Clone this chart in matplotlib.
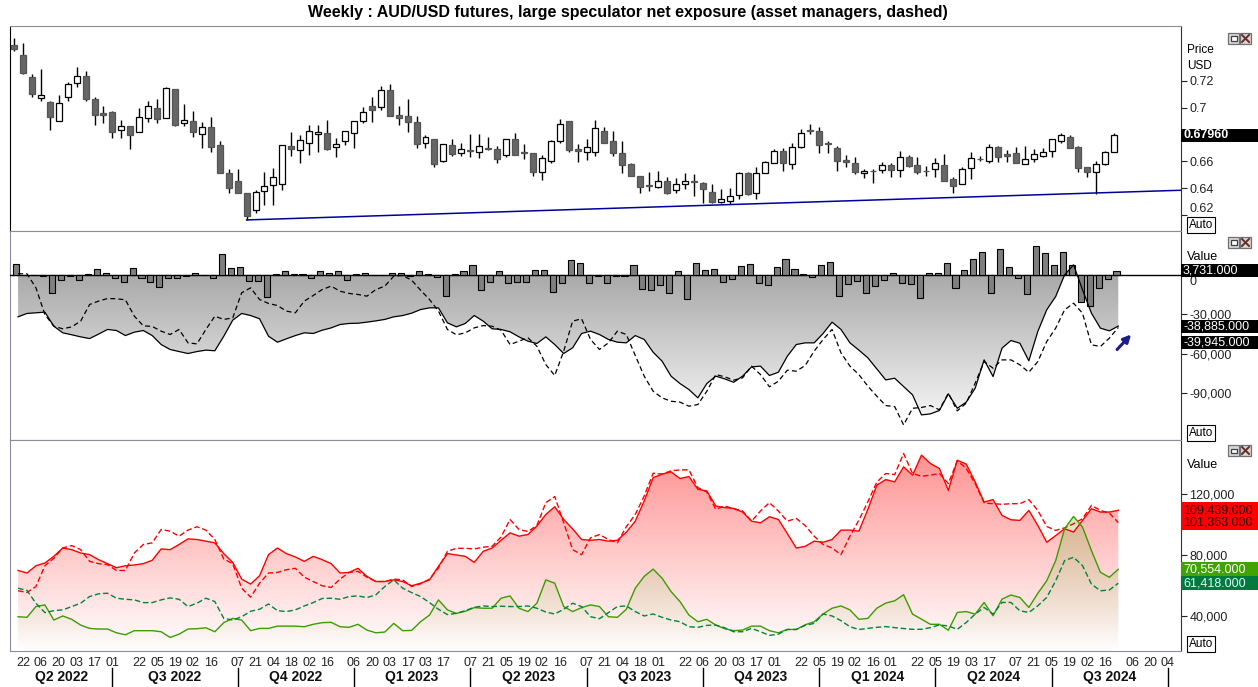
import matplotlib
matplotlib.use('Agg')
import matplotlib.pyplot as plt
import matplotlib.dates as mdates
from matplotlib.patches import Rectangle
from matplotlib.lines import Line2D
from matplotlib.ticker import FuncFormatter
import numpy as np
import pandas as pd

plt.rcParams['font.family'] = ['Liberation Sans', 'DejaVu Sans']

W, H = 1258, 687

#------------------------------------data (weekly, from the picture)------------------------------------
first_week = '2022-04-15'

opens = [0.7463, 0.7389, 0.7226, 0.7068, 0.7041, 0.6898, 0.7075, 0.7179, 0.7233, 0.7063,
         0.6957, 0.6967, 0.6831, 0.6863, 0.6816, 0.6920, 0.6996, 0.6920, 0.7135, 0.6883,
         0.6900, 0.6801, 0.6856, 0.6720, 0.6512, 0.6456, 0.6369, 0.6238, 0.6379, 0.6423,
         0.6431, 0.6715, 0.6683, 0.6735, 0.6801, 0.6811, 0.6705, 0.6749, 0.6809, 0.6898,
         0.7011, 0.7001, 0.7129, 0.6944, 0.6937, 0.6892, 0.6735, 0.6767, 0.6601, 0.6722,
         0.6665, 0.6684, 0.6673, 0.6698, 0.6695, 0.6646, 0.6764, 0.6670, 0.6660, 0.6525,
         0.6606, 0.6749, 0.6900, 0.6690, 0.6673, 0.6673, 0.6826, 0.6752, 0.6660, 0.6584,
         0.6493, 0.6428, 0.6409, 0.6456, 0.6386, 0.6433, 0.6453, 0.6443, 0.6374, 0.6298,
         0.6310, 0.6352, 0.6517, 0.6364, 0.6517, 0.6591, 0.6680, 0.6579, 0.6705, 0.6833,
         0.6826, 0.6740, 0.6698, 0.6611, 0.6586, 0.6512, 0.6532, 0.6537, 0.6574, 0.6537,
         0.6631, 0.6574, 0.6532, 0.6542, 0.6574, 0.6470, 0.6431, 0.6549, 0.6621, 0.6604,
         0.6710, 0.6653, 0.6660, 0.6584, 0.6616, 0.6641, 0.6680, 0.6752, 0.6784, 0.6710,
         0.6557, 0.6520, 0.6579, 0.6673]
highs = [0.7512, 0.7480, 0.7248, 0.7285, 0.7051, 0.7090, 0.7191, 0.7300, 0.7270, 0.7075,
         0.7011, 0.6974, 0.6907, 0.6863, 0.6994, 0.7051, 0.7063, 0.7149, 0.7140, 0.7026,
         0.6974, 0.6892, 0.6930, 0.6752, 0.6542, 0.6542, 0.6369, 0.6389, 0.6522, 0.6549,
         0.6725, 0.6818, 0.6796, 0.6870, 0.6870, 0.6907, 0.6774, 0.6826, 0.6900, 0.7001,
         0.7080, 0.7159, 0.7174, 0.7011, 0.7060, 0.6937, 0.6796, 0.6770, 0.6730, 0.6764,
         0.6739, 0.6801, 0.6801, 0.6784, 0.6715, 0.6767, 0.6809, 0.6727, 0.6663, 0.6646,
         0.6759, 0.6915, 0.6903, 0.6727, 0.6764, 0.6907, 0.6855, 0.6826, 0.6752, 0.6587,
         0.6495, 0.6525, 0.6527, 0.6488, 0.6475, 0.6512, 0.6507, 0.6445, 0.6431, 0.6394,
         0.6401, 0.6520, 0.6520, 0.6557, 0.6601, 0.6692, 0.6698, 0.6734, 0.6838, 0.6878,
         0.6858, 0.6752, 0.6715, 0.6648, 0.6631, 0.6544, 0.6544, 0.6599, 0.6591, 0.6678,
         0.6648, 0.6631, 0.6569, 0.6623, 0.6653, 0.6488, 0.6562, 0.6673, 0.6643, 0.6730,
         0.6717, 0.6685, 0.6710, 0.6715, 0.6692, 0.6698, 0.6764, 0.6813, 0.6796, 0.6717,
         0.6560, 0.6606, 0.6675, 0.6809]
lows = [0.7421, 0.7250, 0.7075, 0.7051, 0.6836, 0.6898, 0.7051, 0.7154, 0.7051, 0.6873,
        0.6888, 0.6771, 0.6771, 0.6695, 0.6816, 0.6895, 0.6888, 0.6920, 0.6865, 0.6863,
        0.6779, 0.6703, 0.6673, 0.6517, 0.6369, 0.6369, 0.6167, 0.6216, 0.6280, 0.6280,
        0.6389, 0.6643, 0.6591, 0.6650, 0.6673, 0.6685, 0.6636, 0.6725, 0.6703, 0.6883,
        0.6895, 0.6981, 0.6937, 0.6873, 0.6821, 0.6703, 0.6703, 0.6562, 0.6598, 0.6641,
        0.6643, 0.6636, 0.6629, 0.6685, 0.6591, 0.6636, 0.6646, 0.6616, 0.6495, 0.6463,
        0.6586, 0.6739, 0.6673, 0.6599, 0.6611, 0.6641, 0.6738, 0.6641, 0.6517, 0.6493,
        0.6369, 0.6384, 0.6407, 0.6359, 0.6364, 0.6394, 0.6344, 0.6290, 0.6290, 0.6296,
        0.6285, 0.6320, 0.6355, 0.6322, 0.6515, 0.6586, 0.6532, 0.6542, 0.6698, 0.6804,
        0.6660, 0.6660, 0.6532, 0.6562, 0.6507, 0.6475, 0.6443, 0.6512, 0.6488, 0.6483,
        0.6562, 0.6507, 0.6495, 0.6488, 0.6458, 0.6369, 0.6431, 0.6470, 0.6604, 0.6591,
        0.6599, 0.6599, 0.6586, 0.6584, 0.6599, 0.6636, 0.6636, 0.6740, 0.6698, 0.6525,
        0.6488, 0.6359, 0.6577, 0.6671]
closes = [0.7433, 0.7253, 0.7098, 0.7090, 0.6932, 0.7031, 0.7172, 0.7231, 0.7065, 0.6947,
          0.6947, 0.6821, 0.6860, 0.6799, 0.6927, 0.7009, 0.6917, 0.7142, 0.6870, 0.6905,
          0.6821, 0.6853, 0.6710, 0.6517, 0.6406, 0.6369, 0.6199, 0.6372, 0.6418, 0.6483,
          0.6722, 0.6690, 0.6757, 0.6823, 0.6816, 0.6695, 0.6730, 0.6823, 0.6898, 0.6964,
          0.6984, 0.7129, 0.6937, 0.6925, 0.6895, 0.6730, 0.6781, 0.6584, 0.6727, 0.6655,
          0.6690, 0.6680, 0.6712, 0.6692, 0.6621, 0.6764, 0.6646, 0.6660, 0.6525, 0.6623,
          0.6749, 0.6875, 0.6688, 0.6680, 0.6705, 0.6846, 0.6740, 0.6660, 0.6576, 0.6495,
          0.6414, 0.6418, 0.6453, 0.6369, 0.6433, 0.6456, 0.6448, 0.6399, 0.6298, 0.6322,
          0.6344, 0.6517, 0.6357, 0.6517, 0.6599, 0.6680, 0.6586, 0.6710, 0.6814, 0.6823,
          0.6722, 0.6730, 0.6606, 0.6594, 0.6520, 0.6530, 0.6527, 0.6572, 0.6537, 0.6631,
          0.6567, 0.6520, 0.6527, 0.6586, 0.6458, 0.6421, 0.6544, 0.6623, 0.6616, 0.6710,
          0.6636, 0.6643, 0.6591, 0.6616, 0.6653, 0.6673, 0.6764, 0.6796, 0.6698, 0.6554,
          0.6520, 0.6579, 0.6673, 0.6796]

# weekly change of large speculator net position (thousands of contracts)
chg_k = [8.5, 0.3, 0.5, -0.5, -13.3, -3.3, -0.5, -3.3, 0.8, 4.6,
         2.0, -2.3, -4.9, 5.9, -1.8, -4.9, -8.7, -1.8, -1.8, -0.5,
         2.0, 0.5, -1.8, 16.7, 5.9, 6.7, -4.1, -4.1, -16.4, 0.8,
         3.6, 1.5, 1.3, -2.3, 3.6, 2.0, 3.6, -3.3, 0.8, 2.0,
         0.2, 0.2, 2.0, 2.0, -0.5, 3.6, 0.8, -1.0, -15.9, 1.5,
         3.1, 7.7, -11.3, -4.9, 3.1, -5.6, -4.9, -4.9, 4.4, 4.4,
         -12.6, -5.6, 12.1, 9.7, -5.6, -0.5, -5.6, -0.5, -0.5, 8.2,
         -10.3, -11.0, -7.2, -13.8, 3.6, -17.9, 9.7, 4.4, 5.1, -4.9,
         -2.6, 7.4, 9.0, -5.6, -7.2, 6.7, 12.8, 5.1, 1.5, -0.8,
         8.2, 10.5, -15.6, -6.2, -4.6, -13.8, -7.9, -3.3, 1.8, -5.9,
         -6.7, -17.4, 1.8, 1.8, 9.5, -9.7, 4.4, 12.8, 17.9, -13.6,
         20.5, 6.2, -2.1, -14.1, 22.8, 17.2, 7.7, 17.9, 8.2, -20.5,
         -23.1, -9.7, -2.6, 3.731]

# net exposure, large speculators (solid) and asset managers (dashed)
net_spec_k = [-31.8, -29.2, -28.7, -28.2, -39.0, -44.1, -45.6, -47.2, -48.5, -45.1,
              -41.5, -42.3, -46.2, -43.6, -42.3, -46.2, -53.1, -56.9, -58.5, -60.0,
              -58.5, -57.4, -57.9, -46.7, -34.4, -29.2, -30.8, -33.3, -46.7, -51.3,
              -48.7, -46.2, -44.1, -44.6, -42.1, -40.3, -37.7, -36.9, -36.7, -35.9,
              -34.9, -33.8, -31.8, -30.8, -29.0, -26.2, -24.9, -24.9, -36.4, -39.5,
              -36.9, -30.8, -35.1, -41.0, -41.5, -43.3, -47.2, -50.5, -52.3, -47.2,
              -53.1, -60.0, -55.6, -44.6, -42.8, -45.4, -49.2, -51.3, -51.8, -46.2,
              -49.2, -59.0, -65.9, -77.4, -83.1, -87.7, -94.1, -83.1, -77.4, -79.5,
              -82.1, -77.4, -70.3, -69.7, -76.9, -74.4, -62.1, -53.1, -51.8, -51.8,
              -44.6, -35.9, -41.5, -51.8, -57.4, -63.3, -71.8, -80.3, -79.0, -85.4,
              -91.8, -107.2, -106.4, -103.8, -91.0, -102.1, -97.4, -86.7, -64.9, -77.7,
              -55.9, -50.0, -52.1, -65.6, -43.1, -26.4, -16.2, 0.5, 8.2, -11.0,
              -29.0, -40.5, -42.6, -38.885]
net_am_k = [1.3, 1.3, -9.5, -30.0, -39.0, -41.0, -39.5, -35.1, -22.3, -19.7,
            -17.7, -17.9, -18.7, -31.3, -38.7, -39.2, -42.8, -45.4, -41.5, -51.8,
            -52.6, -41.5, -31.3, -33.8, -32.6, -13.3, -9.5, -18.5, -21.5, -23.1,
            -27.4, -28.7, -19.7, -15.4, -10.8, -8.2, -12.1, -13.8, -14.6, -15.9,
            -10.8, -8.2, -0.5, 0.0, -3.6, -11.3, -18.5, -27.4, -41.5, -45.6,
            -44.1, -40.3, -38.5, -39.0, -42.1, -53.1, -50.5, -47.9, -54.4, -68.5,
            -76.9, -58.2, -35.1, -33.3, -49.2, -56.9, -51.8, -42.8, -45.4, -61.5,
            -77.4, -89.0, -94.1, -96.7, -97.4, -100.5, -99.2, -89.0, -76.2, -77.9,
            -80.5, -78.7, -69.7, -76.2, -85.6, -81.3, -72.8, -73.6, -69.2, -58.2,
            -49.2, -41.5, -59.5, -69.7, -76.2, -85.1, -92.8, -100.0, -100.8, -114.9,
            -102.1, -101.5, -100.0, -103.3, -90.5, -104.1, -98.2, -82.8, -66.2, -71.3,
            -64.9, -64.9, -68.7, -74.4, -66.2, -50.8, -40.5, -26.4, -21.3, -29.0,
            -53.3, -54.6, -48.2, -39.945]

# shorts (red) and longs (green); large speculators solid, asset managers dashed
spec_short_k = [69.8, 68.1, 72.9, 74.7, 79.1, 84.6, 83.5, 81.3, 80.2, 76.9,
                74.3, 71.6, 72.9, 73.4, 74.3, 76.5, 84.0, 83.5, 86.9, 90.6,
                90.2, 89.1, 88.0, 80.9, 75.1, 64.1, 60.8, 66.3, 80.2, 84.6,
                80.9, 78.7, 75.8, 79.1, 76.9, 74.3, 68.1, 68.5, 71.2, 65.9,
                62.5, 62.5, 63.6, 62.5, 59.7, 61.4, 63.6, 72.5, 80.9, 80.0,
                79.1, 75.1, 82.4, 84.6, 89.7, 94.6, 92.4, 93.5, 99.0, 106.7,
                111.8, 103.4, 97.2, 90.2, 89.7, 90.2, 89.1, 89.7, 95.0, 102.3,
                115.6, 131.0, 133.3, 134.8, 130.4, 131.7, 123.3, 122.2, 112.3, 111.2,
                110.7, 108.3, 102.3, 101.2, 105.2, 103.4, 94.1, 84.6, 85.7, 89.1,
                88.4, 90.2, 96.4, 96.4, 95.7, 110.0, 126.0, 129.7, 128.2, 138.1,
                132.6, 145.8, 140.3, 137.0, 122.6, 142.5, 139.9, 128.2, 114.9, 116.5,
                106.1, 103.2, 102.8, 109.4, 99.5, 88.4, 92.8, 97.3, 95.1, 102.8,
                110.5, 108.3, 108.3, 109.439]
am_short_k = [56.4, 55.3, 59.2, 72.9, 77.8, 84.6, 86.2, 83.5, 75.8, 74.3,
              73.6, 69.8, 69.8, 81.3, 86.9, 88.0, 96.8, 95.7, 92.4, 96.4,
              98.6, 96.4, 90.2, 77.3, 74.3, 58.1, 52.2, 61.4, 68.1, 68.5,
              70.3, 71.2, 65.4, 62.5, 59.7, 58.6, 64.1, 68.5, 69.2, 65.4,
              62.5, 62.5, 64.1, 63.6, 59.2, 61.0, 64.1, 71.4, 82.4, 84.4,
              84.4, 84.0, 85.1, 85.7, 91.9, 103.4, 96.8, 95.5, 99.4, 114.5,
              118.5, 101.2, 83.5, 80.2, 91.3, 93.5, 90.2, 88.0, 98.6, 106.7,
              118.9, 133.9, 133.3, 135.5, 136.1, 136.1, 124.4, 121.5, 110.1, 112.3,
              110.5, 109.0, 102.3, 109.0, 114.5, 109.0, 102.3, 104.1, 99.4, 92.4,
              86.9, 84.6, 80.2, 92.4, 103.0, 115.0, 128.0, 133.7, 133.0, 146.9,
              133.7, 131.9, 132.6, 133.7, 127.1, 142.1, 137.0, 127.1, 114.3, 113.8,
              113.4, 113.8, 113.8, 116.5, 109.4, 98.8, 96.2, 97.9, 100.6, 103.9,
              112.7, 109.4, 107.6, 101.363]
spec_long_k = [39.3, 38.9, 46.0, 47.1, 37.1, 39.8, 37.6, 33.8, 31.6, 31.2,
               31.2, 28.7, 27.4, 30.1, 30.1, 30.1, 29.4, 25.6, 27.8, 31.2,
               31.4, 32.0, 29.4, 35.4, 38.2, 37.1, 30.1, 31.6, 31.6, 33.1,
               33.1, 33.1, 32.7, 34.3, 35.4, 35.6, 32.7, 32.3, 34.3, 30.5,
               28.7, 29.2, 34.9, 30.1, 30.3, 36.0, 40.4, 50.4, 43.8, 41.5,
               42.9, 45.3, 44.9, 44.9, 51.5, 53.0, 44.9, 42.7, 48.2, 63.6,
               61.4, 46.0, 42.7, 45.3, 47.1, 46.0, 39.3, 38.9, 44.2, 58.1,
               65.9, 70.7, 64.7, 55.9, 49.3, 40.4, 36.0, 37.6, 33.8, 31.4,
               30.1, 30.5, 33.1, 33.1, 30.1, 28.7, 30.9, 30.9, 34.0, 36.0,
               41.1, 44.9, 46.4, 43.8, 37.6, 38.2, 44.9, 48.3, 49.8, 53.8,
               41.0, 37.7, 34.3, 34.3, 30.4, 42.1, 42.7, 41.0, 48.7, 39.9,
               50.9, 53.6, 52.0, 45.4, 54.7, 63.0, 76.3, 97.3, 105.4, 98.4,
               82.9, 68.6, 65.3, 70.554]
am_long_k = [58.1, 56.6, 48.2, 42.0, 43.3, 43.8, 46.0, 48.2, 52.6, 54.4,
             54.8, 51.5, 50.8, 50.4, 48.6, 48.6, 50.4, 51.7, 50.8, 46.0,
             48.2, 51.5, 49.3, 38.2, 37.1, 39.3, 42.9, 44.2, 47.7, 43.3,
             42.7, 43.8, 46.4, 48.6, 51.3, 51.5, 50.8, 52.6, 53.0, 51.9,
             53.7, 59.2, 63.6, 58.1, 55.2, 52.6, 48.6, 44.2, 40.7, 41.5,
             43.3, 45.5, 46.4, 46.0, 46.2, 46.0, 46.0, 46.4, 44.9, 42.4,
             41.1, 44.2, 48.2, 46.0, 39.3, 38.0, 42.0, 46.0, 46.4, 42.7,
             39.8, 41.1, 38.9, 37.1, 36.0, 32.7, 32.3, 33.6, 33.8, 32.0,
             29.4, 29.4, 31.6, 29.4, 27.0, 27.8, 30.9, 30.9, 33.6, 34.9,
             41.1, 39.8, 36.7, 32.7, 30.9, 31.6, 32.3, 32.8, 32.1, 31.5,
             31.0, 31.0, 32.1, 33.9, 33.2, 31.0, 35.5, 41.0, 45.4, 41.0,
             48.7, 48.7, 43.2, 42.1, 46.5, 52.0, 63.0, 76.3, 78.5, 73.0,
             60.8, 56.4, 56.9, 61.418]

# support line under the lows
trend_start_week = 26
trend_start_val = 0.6167
trend_end_val = 0.6387

tick_days = ['2022-04-22', '2022-05-06', '2022-05-20', '2022-06-03', '2022-06-17', '2022-07-01',
             '2022-07-22', '2022-08-05', '2022-08-19', '2022-09-02', '2022-09-16',
             '2022-10-07', '2022-10-21', '2022-11-04', '2022-11-18', '2022-12-02', '2022-12-16',
             '2023-01-06', '2023-01-20', '2023-02-03', '2023-02-17', '2023-03-03', '2023-03-17',
             '2023-04-07', '2023-04-21', '2023-05-05', '2023-05-19', '2023-06-02', '2023-06-16',
             '2023-07-07', '2023-07-21', '2023-08-04', '2023-08-18', '2023-09-01', '2023-09-22',
             '2023-10-06', '2023-10-20', '2023-11-03', '2023-11-17', '2023-12-01', '2023-12-22',
             '2024-01-05', '2024-01-19', '2024-02-02', '2024-02-16', '2024-03-01', '2024-03-22',
             '2024-04-05', '2024-04-19', '2024-05-03', '2024-05-17', '2024-06-07', '2024-06-21',
             '2024-07-05', '2024-07-19', '2024-08-02', '2024-08-16', '2024-09-06', '2024-09-20',
             '2024-10-04']
quarter_starts = ['2022-07-01', '2022-10-07', '2023-01-06', '2023-04-07', '2023-07-07',
                  '2023-10-06', '2024-01-05', '2024-04-05', '2024-07-05', '2024-10-04']
quarter_names = ['Q2 2022', 'Q3 2022', 'Q4 2022', 'Q1 2023', 'Q2 2023', 'Q3 2023',
                 'Q4 2023', 'Q1 2024', 'Q2 2024', 'Q3 2024']

#------------------------------------helpers------------------------------------
weeks = pd.date_range(first_week, periods=len(closes), freq='W-FRI')
xs = mdates.date2num(weeks)
x_line = xs + 0.45*7      # report values sit a little right of the candles
x_bar = xs + 0.25*7
x_lo = xs[0] - 0.45*7
x_hi = xs[0] + 130.46*7

def grad_fill(ax, x, y, base, rgb, a_bot, a_top, y_bot, y_top, z):
    coll = ax.fill_between(x, y, base, facecolor='none', edgecolor='none')
    g = np.zeros((256, 1, 4))
    g[:, 0, :3] = rgb
    g[:, 0, 3] = np.linspace(a_bot, a_top, 256)
    im = ax.imshow(g, extent=[x[0], x[-1], y_bot, y_top], origin='lower',
                   aspect='auto', zorder=z, interpolation='bilinear')
    im.set_clip_path(coll.get_paths()[0], transform=ax.transData)

def value_box(ax, v, txt, bg, fg, dy=0, h=13, bold=False):
    # dy > 0 moves the box down
    ypix = ax.transData.transform((x_lo, v))[1] - dy
    fig.patches.append(Rectangle((1181/W, (ypix - h/2)/H), 77/W, h/H,
                                 transform=fig.transFigure, facecolor=bg, edgecolor='none', zorder=5))
    fig.text(1183/W, ypix/H, txt, color=fg, fontsize=9, va='center', ha='left',
             fontweight='bold' if bold else 'normal', zorder=6)

def side_label(ax, v, txt, dy=0):
    ypix = ax.transData.transform((x_lo, v))[1] - dy
    fig.text(1189/W, ypix/H, txt, fontsize=9, va='center', ha='left', color='#222222')

def win_icons(ytop):
    for x0 in (1228, 1240):
        fig.patches.append(Rectangle((x0/W, 1-(ytop+11)/H), 11/W, 11/H, transform=fig.transFigure,
                                     facecolor='#d6d6d6', edgecolor='#707070', lw=0.9))
    fig.patches.append(Rectangle((1230.5/W, 1-(ytop+7.5)/H), 6/W, 4/H, transform=fig.transFigure,
                                 facecolor='white', edgecolor='#404040', lw=0.9))
    for a, b in ((2, 9), (9, 2)):
        fig.lines.append(Line2D([1242/W, 1249/W], [1-(ytop+a)/H, 1-(ytop+b)/H],
                                transform=fig.transFigure, color='#6a2a2a', lw=1.4))

def style_axis(ax):
    ax.set_xlim(x_lo, x_hi)
    ax.yaxis.tick_right()
    ax.tick_params(axis='y', direction='out', length=4, pad=2, labelsize=9, colors='#222222')
    ax.tick_params(axis='x', length=0)
    for s in ['top', 'bottom', 'left']:
        ax.spines[s].set_color('#8c8c9c')
    ax.spines['right'].set_color('#333333')

fig = plt.figure(figsize=(W/100, H/100), dpi=100)

ax1 = fig.add_axes([10/W, 1-231/H, 1171/W, 205/H])
ax2 = fig.add_axes([10/W, 1-440/H, 1171/W, 209/H])
ax3 = fig.add_axes([10/W, 1-651/H, 1171/W, 211/H])
for ax in (ax1, ax2, ax3):
    style_axis(ax)
ax1.spines['left'].set_color('black')
ax1.set_xticks([]); ax2.set_xticks([])

#------------------------------------top: candles------------------------------------
bw = 0.67*7
for x, o, hi, lo, c in zip(xs, opens, highs, lows, closes):
    ax1.plot([x, x], [lo, hi], color='black', lw=1, zorder=2, solid_capstyle='butt')
    up = c >= o
    ax1.add_patch(Rectangle((x - bw/2, min(o, c)), bw, max(abs(c - o), 0.0005),
                            facecolor='white' if up else '#666666',
                            edgecolor='black' if up else '#555555', lw=0.9, zorder=3))
ax1.plot([xs[trend_start_week], x_hi], [trend_start_val, trend_end_val], color='#000099', lw=1.1, zorder=4)
ax1.set_ylim(0.6085, 0.7604)
ax1.set_yticks([0.62, 0.64, 0.66, 0.70, 0.72])
ax1.yaxis.set_major_formatter(FuncFormatter(lambda v, p: '' if abs(v - 0.62) < 1e-6 else '%g' % round(v, 2)))
side_label(ax1, 0.62, '0.62', dy=-6)
ax1.text(983/W, 78/H, 'Net-short exposure to AUD/USD\nfutures was reduced, prices rose\nfor a third week',
         transform=fig.transFigure, ha='center', va='center', color='#2a2aa0', fontsize=11.5, linespacing=1.15)

#------------------------------------middle: net exposure------------------------------------
net_spec = np.array(net_spec_k)*1000
net_am = np.array(net_am_k)*1000
chg = np.array(chg_k)*1000
ax2.set_ylim(-126500, 34200)
grad_fill(ax2, x_line, net_spec, 0, (0, 0, 0), 0.0, 0.43, -126500, 34200, 1)
ax2.axhline(0, color='black', lw=1, zorder=3)
ax2.bar(x_bar, chg, width=0.68*7, color='#7f7f7f', edgecolor='black', lw=0.8, zorder=4)
ax2.plot(x_line, net_spec, color='black', lw=0.9, zorder=5)
ax2.plot(x_line, net_am, color='black', lw=0.9, dashes=(4, 2.5), zorder=5)
ax2.set_xlim(x_lo, x_hi)
ax2.set_ylim(-126500, 34200)
ax2.set_yticks([-90000, -60000, -30000, 0])
ax2.yaxis.set_major_formatter(FuncFormatter(lambda v, p: '' if v == 0 else f'{v:,.0f}'))
side_label(ax2, 0, '0', dy=7)
ax2.annotate('', xy=(xs[0] + 125.1*7, -43800), xytext=(xs[0] + 123.1*7, -58500),
             arrowprops=dict(arrowstyle='-|>', color='#1c1c8c', lw=2.2, mutation_scale=11), zorder=6)

#------------------------------------bottom: longs and shorts------------------------------------
spec_short = np.array(spec_short_k)*1000
am_short = np.array(am_short_k)*1000
spec_long = np.array(spec_long_k)*1000
am_long = np.array(am_long_k)*1000
ax3.set_ylim(16700, 155800)
grad_fill(ax3, x_line, spec_short, 16700, (1, 0, 0), 0.0, 0.46, 16700, 155800, 1)
grad_fill(ax3, x_line, spec_long, 16700, (0.55, 0.72, 0.30), 0.0, 0.55, 16700, 155800, 2)
ax3.plot(x_line, spec_short, color='#ff0000', lw=1, zorder=4)
ax3.plot(x_line, am_short, color='#ff0000', lw=1, dashes=(4, 2), zorder=4)
ax3.plot(x_line, spec_long, color='#3c9c00', lw=1, zorder=4)
ax3.plot(x_line, am_long, color='#00843c', lw=1, dashes=(4, 2), zorder=4)
ax3.set_xlim(x_lo, x_hi)
ax3.set_ylim(16700, 155800)
ax3.set_yticks([40000, 80000, 120000])
ax3.yaxis.set_major_formatter(FuncFormatter(lambda v, p: f'{v:,.0f}'))

tick_x = mdates.date2num(pd.to_datetime(tick_days))
ax3.set_xticks(tick_x)
ax3.set_xticklabels([d[-2:] for d in tick_days], fontsize=9, color='#222222')
ax3.tick_params(axis='x', length=0, pad=4)

q_x = mdates.date2num(pd.to_datetime(quarter_starts))
edges = [x_lo] + list(q_x)
for k, name in enumerate(quarter_names):
    mid = (edges[k] + edges[k+1]) / 2
    ax3.text(mid, -0.125, name, transform=ax3.get_xaxis_transform(), ha='center', va='center',
             fontsize=10, fontweight='bold', color='#111111')
for qx in q_x:
    ax3.plot([qx, qx], [-0.08, -0.18], transform=ax3.get_xaxis_transform(), color='black', lw=1, clip_on=False)

#------------------------------------right side labels------------------------------------
fig.text(1187/W, 1-50/H, 'Price', fontsize=8.5, va='center')
fig.text(1187/W, 1-66/H, 'USD', fontsize=8.5, va='center')
fig.text(1187/W, 1-257/H, 'Value', fontsize=9, va='center')
fig.text(1187/W, 1-465/H, 'Value', fontsize=9, va='center')
for yy in (225, 433, 644):
    fig.text(1189/W, 1-yy/H, 'Auto', fontsize=8.5, va='center',
             bbox=dict(boxstyle='square,pad=0.15', facecolor='white', edgecolor='black', lw=0.8))
for yy in (33, 237, 445):
    win_icons(yy)

value_box(ax1, closes[-1], '0.67960', 'black', 'white', bold=True)
value_box(ax2, chg[-1], '3,731.000', 'black', 'white')
value_box(ax2, net_spec[-1], '-38,885.000', 'black', 'white')
value_box(ax2, net_am[-1], '-39,945.000', 'black', 'white', dy=15)
value_box(ax3, (spec_short[-1] + am_short[-1]) / 2, '', '#ff0000', 'black', h=28)
fig.text(1183/W, ax3.transData.transform((x_lo, spec_short[-1]))[1]/H, '109,439.000', fontsize=9, va='center', color='#330000', zorder=6)
fig.text(1183/W, ax3.transData.transform((x_lo, am_short[-1]))[1]/H, '101,363.000', fontsize=9, va='center', color='#330000', zorder=6)
value_box(ax3, spec_long[-1], '70,554.000', '#3fa300', 'white', h=14)
value_box(ax3, am_long[-1], '61,418.000', '#007a3d', '#dff6ff', h=14)

fig.text(628/W, 1-12/H, 'Weekly : AUD/USD futures, large speculator net exposure (asset managers, dashed)',
         ha='center', va='center', fontsize=11.5, fontweight='bold')

fig.savefig('out.png', dpi=100)
